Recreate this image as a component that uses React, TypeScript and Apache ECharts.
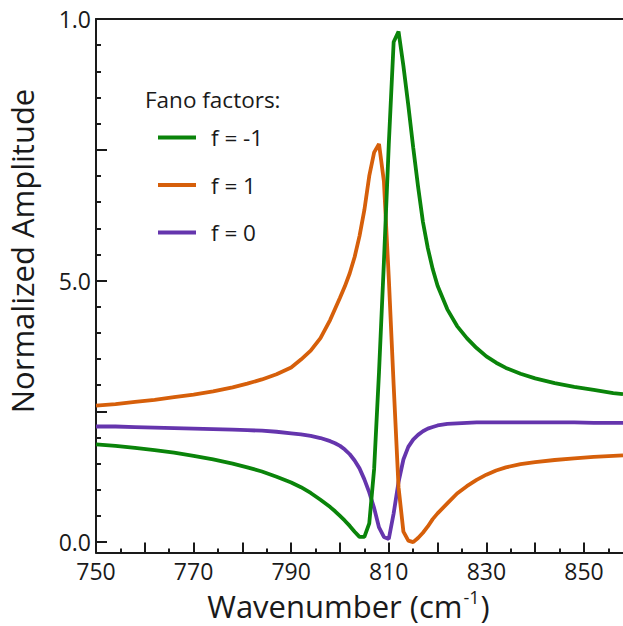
import React, { useEffect, useRef } from "react";
import * as echarts from "echarts";

const wavenumbers = [750,754,758,762,766,770,774,778,781,784,787,790,792,794,796,798,799,800,801,802,803,804,805,806,807,808,809,810,811,812,813,814,815,816,817,818,819,820,822,824,826,828,830,832,834,837,840,844,848,852,856,858];

const fanoMinus1 = [1.87,1.84,1.80,1.76,1.71,1.65,1.58,1.50,1.43,1.35,1.25,1.14,1.05,0.94,0.81,0.67,0.59,0.50,0.41,0.31,0.20,0.10,0.10,0.36,1.40,3.25,5.35,7.60,9.56,9.76,9.10,8.35,7.55,6.80,6.12,5.62,5.22,4.90,4.45,4.13,3.90,3.71,3.55,3.43,3.33,3.22,3.13,3.04,2.97,2.91,2.85,2.83];

const fanoPlus1 = [2.61,2.64,2.68,2.72,2.77,2.82,2.88,2.96,3.03,3.11,3.21,3.34,3.49,3.66,3.90,4.25,4.46,4.67,4.89,5.14,5.45,5.85,6.35,7.00,7.45,7.61,6.90,5.05,3.00,1.05,0.20,0.03,0.00,0.08,0.18,0.30,0.44,0.55,0.74,0.93,1.07,1.19,1.29,1.37,1.43,1.49,1.53,1.57,1.60,1.63,1.65,1.66];

const fanoZero = [2.21,2.21,2.20,2.19,2.18,2.17,2.16,2.15,2.14,2.13,2.11,2.08,2.06,2.03,1.99,1.93,1.89,1.84,1.77,1.68,1.56,1.41,1.20,0.95,0.65,0.28,0.10,0.06,0.55,1.15,1.58,1.82,1.96,2.05,2.12,2.17,2.20,2.23,2.26,2.27,2.28,2.29,2.29,2.29,2.29,2.29,2.29,2.29,2.29,2.28,2.28,2.28];

const seriesNames = ["f = -1", "f = 1", "f = 0"];
const seriesColors = ["#0a840a", "#d65f0a", "#6535ad"];

const xMajorTicks = [750,760,770,780,790,800,810,820,830,840,850];
const xMinorTicks = [755,765,775,785,795,805,815,825,835,845,855];
const xLabelValues = [750,770,790,810,830,850];

const yMajorTicks = [0,2.5,5,7.5,10];
const yMinorTicks = [0.5,1,1.5,2,3,3.5,4,4.5,5.5,6,6.5,7,8,8.5,9,9.5];
const yLabelValues = [0,5,10];
const yLabelTexts = ["0.0","5.0","1.0"];

const FONT = "'Open Sans', 'Noto Sans', sans-serif";
const INK = "#1a1a1a";

export default function App() {
  const ref = useRef<HTMLDivElement>(null);
  useEffect(() => {
    if (!ref.current) return;
    const chart = echarts.init(ref.current, undefined, { renderer: "svg" });
    const toPairs = (vals: number[]) => wavenumbers.map((w, i) => [w, vals[i]]);
    const xMin = 750, xMax = 858, yMin = -0.2, yMax = 10;
    const baseX = {
      type: "value" as const,
      min: xMin,
      max: xMax,
      splitLine: { show: false },
    };
    const baseY = {
      type: "value" as const,
      min: yMin,
      max: yMax,
      splitLine: { show: false },
    };
    const seriesData = [fanoMinus1, fanoPlus1, fanoZero];
    const drawOrder = [2, 1, 0];
    chart.setOption({
      animation: false,
      grid: { left: 96, right: 0, top: 19, bottom: 73, containLabel: false },
      xAxis: [
        {
          ...baseX,
          position: "bottom",
          axisLine: { show: true, onZero: false, lineStyle: { color: INK, width: 2 } },
          axisTick: { show: true, inside: true, length: 10, customValues: xMajorTicks, lineStyle: { color: INK, width: 2 } },
          axisLabel: {
            show: true,
            customValues: xLabelValues,
            margin: 7,
            color: INK,
            fontFamily: FONT,
            fontSize: 23,
          },
          name: "{a|Wavenumber (cm}{b|-1}{a|)}",
          nameLocation: "middle",
          nameGap: 33,
          nameTextStyle: {
            padding: [0, 22, 0, 0],
            rich: {
              a: { fontFamily: FONT, fontSize: 31, color: INK, lineHeight: 36 },
              b: { fontFamily: FONT, fontSize: 18, color: INK, lineHeight: 36, verticalAlign: "top", padding: [0, 1, 0, 1] },
            },
          },
        },
        {
          ...baseX,
          position: "bottom",
          axisLine: { show: false, onZero: false },
          axisTick: { show: true, inside: true, length: 4, customValues: xMinorTicks, lineStyle: { color: INK, width: 2 } },
          axisLabel: { show: false },
        },
        {
          ...baseX,
          position: "top",
          axisLine: { show: true, onZero: false, lineStyle: { color: INK, width: 2 } },
          axisTick: { show: false },
          axisLabel: { show: false },
        },
      ],
      yAxis: [
        {
          ...baseY,
          position: "left",
          axisLine: { show: true, onZero: false, lineStyle: { color: INK, width: 2 } },
          axisTick: { show: true, inside: true, length: 5, customValues: yMinorTicks, lineStyle: { color: INK, width: 2 } },
          axisLabel: { show: false },
        },
        {
          ...baseY,
          position: "left",
          axisLine: { show: false, onZero: false },
          axisTick: { show: true, inside: true, length: 11, customValues: yMajorTicks, lineStyle: { color: INK, width: 2 } },
          axisLabel: {
            show: true,
            customValues: yLabelValues,
            margin: 5,
            color: INK,
            fontFamily: FONT,
            fontSize: 23,
            formatter: (v: number) => {
              const i = yLabelValues.findIndex((t) => Math.abs(t - v) < 1e-6);
              return i >= 0 ? yLabelTexts[i] : "";
            },
          },
        },
      ],
      legend: {
        show: true,
        orient: "vertical",
        left: 158,
        top: 126,
        padding: 0,
        icon: "rect",
        itemWidth: 38,
        itemHeight: 4,
        itemGap: 24.5,
        data: seriesNames,
        textStyle: { fontFamily: FONT, fontSize: 22.5, color: INK, padding: [0, 0, 0, 10] },
      },
      graphic: [
        {
          type: "text",
          x: 145,
          y: 99,
          style: {
            text: "Fano factors:",
            font: `22.5px ${FONT}`,
            fill: INK,
            align: "left",
            verticalAlign: "middle",
          },
        },
        {
          type: "text",
          x: 22,
          y: 251,
          rotation: Math.PI / 2,
          style: {
            text: "Normalized Amplitude",
            font: `31px ${FONT}`,
            fill: INK,
            align: "center",
            verticalAlign: "middle",
          },
        },
      ],
      series: drawOrder.map((k, j) => ({
        name: seriesNames[k],
        type: "line",
        data: toPairs(seriesData[k]),
        showSymbol: false,
        symbol: "none",
        lineStyle: { color: seriesColors[k], width: 3.8 },
        itemStyle: { color: seriesColors[k] },
        z: 2 + j,
      })),
    });
    return () => chart.dispose();
  }, []);
  return (
    <div
      ref={ref}
      style={{ position: "absolute", left: 0, top: 0, width: 623, height: 626, background: "#fff" }}
    />
  );
}
